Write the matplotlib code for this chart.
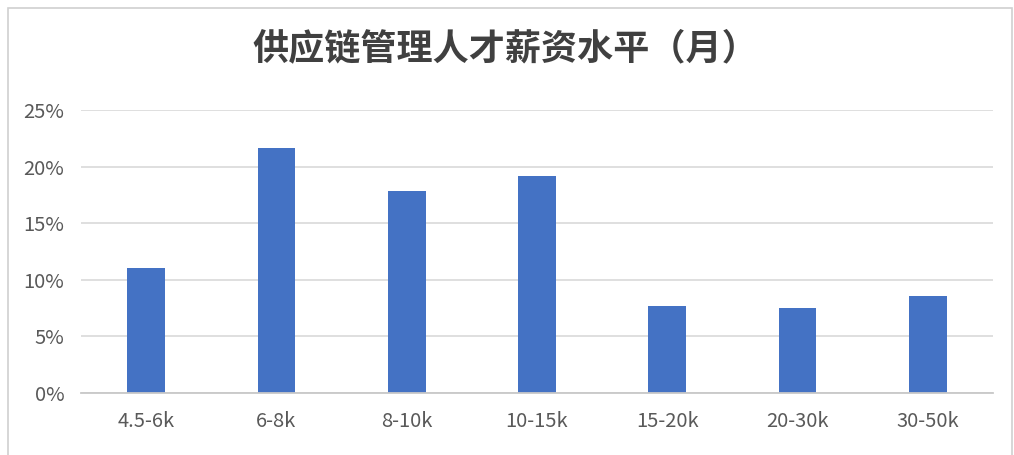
import matplotlib.pyplot as plt
from matplotlib.patches import Rectangle
from matplotlib.ticker import FuncFormatter
import numpy as np

plt.rcParams['font.family'] = ['Noto Sans CJK SC', 'DejaVu Sans']

# salary bands and share of talent
categories = ['4.5-6k', '6-8k', '8-10k', '10-15k', '15-20k', '20-30k', '30-50k']
shares = [11.0, 21.6, 17.8, 19.2, 7.7, 7.45, 8.55]
y_ticks = [0, 5, 10, 15, 20, 25]
title = '供应链管理人才薪资水平（月）'

W, H = 1014, 455
fig = plt.figure(figsize=(W / 100, H / 100), dpi=100)
fig.patch.set_facecolor('white')

# thin grey frame around the chart
fig.add_artist(Rectangle((8 / W, -0.05), (W - 10) / W, (H - 8) / H + 0.05,
                         transform=fig.transFigure, fill=False,
                         edgecolor='#d0d0d0', linewidth=1.2))

ax = fig.add_axes([81 / W, (H - 392.7) / H, (993 - 81) / W, (392.7 - 110) / H])
x = np.arange(len(categories))
ax.bar(x, shares, width=0.29, color='#4472C4', zorder=3)

ax.set_xlim(-0.5, len(categories) - 0.5)
ax.set_ylim(0, 25)
ax.set_yticks(y_ticks)
ax.yaxis.set_major_formatter(FuncFormatter(lambda v, p: f'{v:.0f}%'))
ax.set_xticks(x)
ax.set_xticklabels(categories)

ax.grid(axis='y', color='#d9d9d9', linewidth=1.2, zorder=0)
for s in ['top', 'right', 'left']:
    ax.spines[s].set_visible(False)
ax.spines['bottom'].set_color('#c8c8c8')
ax.spines['bottom'].set_linewidth(1.3)
ax.spines['bottom'].set_zorder(4)
ax.tick_params(axis='both', length=0, labelsize=14.5, colors='#595959')
ax.tick_params(axis='x', pad=13)
ax.tick_params(axis='y', pad=12)
for lab in ax.get_xticklabels() + ax.get_yticklabels():
    lab.set_fontweight('light')

fig.text(505 / W, 1 - 49 / H, title, ha='center', va='center',
         fontsize=26, fontweight='bold', color='#404040')

fig.savefig('out.png', dpi=100)
